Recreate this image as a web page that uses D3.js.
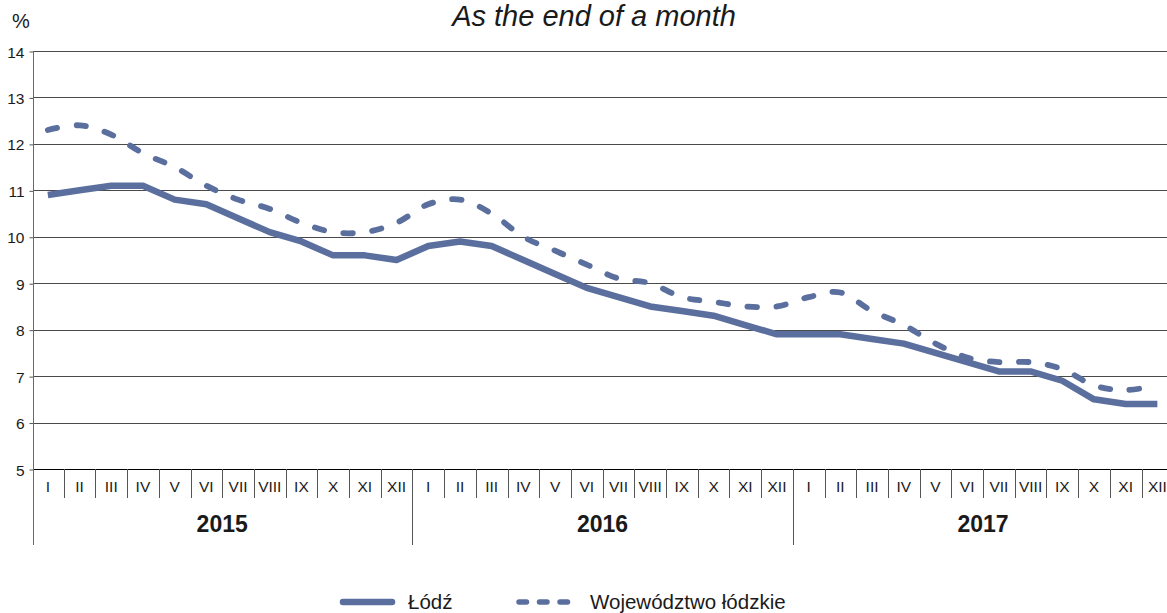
<!DOCTYPE html>
<html>
<head>
<meta charset="utf-8">
<script src="https://cdn.jsdelivr.net/npm/d3@7/dist/d3.min.js"></script>
<style>
	html, body { margin: 0; padding: 0; background: #fff; }
	svg { display: block; font-family: 'Liberation Sans', Arial, sans-serif; }
</style>
</head>
<body>
<div id="chart"></div>
<script>
var years = ['2015', '2016', '2017'];
var months = ['I', 'II', 'III', 'IV', 'V', 'VI', 'VII', 'VIII', 'IX', 'X', 'XI', 'XII'];
var yTicks = [5, 6, 7, 8, 9, 10, 11, 12, 13, 14];

// unemployment rate, % (end of month)
var lodz = [
	10.9, 11.0, 11.1, 11.1, 10.8, 10.7, 10.4, 10.1, 9.9, 9.6, 9.6, 9.5,
	9.8, 9.9, 9.8, 9.5, 9.2, 8.9, 8.7, 8.5, 8.4, 8.3, 8.1, 7.9,
	7.9, 7.9, 7.8, 7.7, 7.5, 7.3, 7.1, 7.1, 6.9, 6.5, 6.4, 6.4
];
var wojewodztwo = [
	12.3, 12.4, 12.2, 11.8, 11.5, 11.1, 10.8, 10.6, 10.3, 10.1, 10.1, 10.3,
	10.7, 10.8, 10.5, 10.0, 9.7, 9.4, 9.1, 9.0, 8.7, 8.6, 8.5, 8.5,
	8.7, 8.8, 8.4, 8.1, 7.7, 7.4, 7.3, 7.3, 7.15, 6.8, 6.7, 6.8
];

var LINE_COLOR = '#5b6f9e';

(function () {
	drawChart('chart');
})();

function drawChart(elementId) {
	var width = 1167,
		height = 613,
		left = 33,
		right = 1173.2,
		top = 51,
		bottom = 469,
		monthRow = 498,
		yearRow = 545;

	var svg = d3.select('#' + elementId).append('svg')
		.attr('width', width)
		.attr('height', height);

	var points = [];
	years.forEach(function (yr) {
		months.forEach(function (m) {
			points.push({ year: yr, month: m });
		});
	});

	var x = d3.scaleBand()
		.domain(d3.range(points.length))
		.range([left - 1, right])
		.paddingInner(0)
		.paddingOuter(0);

	var y = d3.scaleLinear()
		.domain([5, 14])
		.range([bottom, top]);

	// gridlines
	svg.append('g')
		.attr('class', 'grid')
		.selectAll('line')
		.data(yTicks)
		.enter().append('line')
		.attr('x1', left)
		.attr('x2', width)
		.attr('y1', function (d) { return Math.round(y(d)) + 0.5; })
		.attr('y2', function (d) { return Math.round(y(d)) + 0.5; })
		.attr('stroke', function (d) { return d === 5 ? '#000' : '#4a4a4a'; })
		.attr('stroke-width', 1);

	// y axis
	var yAxis = d3.axisLeft(y)
		.tickValues(yTicks)
		.tickSize(4)
		.tickSizeOuter(0);

	var yg = svg.append('g')
		.attr('class', 'yAxis')
		.attr('transform', 'translate(' + (left + 0.5) + ',0.5)')
		.call(yAxis);
	yg.select('.domain').remove();
	yg.selectAll('.tick line').attr('stroke', '#555');
	yg.selectAll('.tick text')
		.attr('x', -9)
		.attr('dy', '0.36em')
		.attr('fill', '#1a1a1a')
		.style('font-size', '15.5px');

	svg.append('line')
		.attr('x1', left + 0.5).attr('x2', left + 0.5)
		.attr('y1', top).attr('y2', yearRow)
		.attr('stroke', '#6a6a6a');

	// month labels
	var xAxis = d3.axisBottom(x)
		.tickSize(0)
		.tickFormat(function (i) { return points[i].month; });

	var xg = svg.append('g')
		.attr('class', 'xAxis')
		.attr('transform', 'translate(0,' + bottom + ')')
		.call(xAxis);
	xg.select('.domain').remove();
	xg.selectAll('.tick text')
		.attr('y', 17)
		.attr('dy', '0.36em')
		.attr('fill', '#1a1a1a')
		.style('font-size', '15.5px');

	// separators between months and years
	svg.append('g')
		.selectAll('line')
		.data(d3.range(1, points.length))
		.enter().append('line')
		.attr('x1', function (i) { return Math.round(x(i)) + 0.5; })
		.attr('x2', function (i) { return Math.round(x(i)) + 0.5; })
		.attr('y1', bottom)
		.attr('y2', function (i) { return i % 12 === 0 ? yearRow : monthRow; })
		.attr('stroke', '#555');

	// year labels
	svg.append('g')
		.selectAll('text')
		.data(years)
		.enter().append('text')
		.attr('x', function (d, k) { return (x(k * 12) + x(k * 12 + 11) + x.bandwidth()) / 2; })
		.attr('y', 532)
		.attr('text-anchor', 'middle')
		.attr('fill', '#1a1a1a')
		.style('font-weight', 'bold')
		.style('font-size', '23px')
		.text(function (d) { return d; });

	var cx = function (d, i) { return x(i) + x.bandwidth() / 2; };

	var solid = d3.line()
		.curve(d3.curveLinear)
		.x(cx)
		.y(function (d) { return y(d); });

	var smooth = d3.line()
		.curve(d3.curveCardinal.tension(0))
		.x(cx)
		.y(function (d) { return y(d); });

	svg.append('path')
		.datum(wojewodztwo)
		.attr('fill', 'none')
		.attr('stroke', LINE_COLOR)
		.attr('stroke-width', 5.8)
		.attr('stroke-linecap', 'round')
		.attr('stroke-dasharray', '9.5,19.5')
		.attr('d', smooth);

	svg.append('path')
		.datum(lodz)
		.attr('fill', 'none')
		.attr('stroke', LINE_COLOR)
		.attr('stroke-width', 6.5)
		.attr('stroke-linejoin', 'round')
		.attr('d', solid);

	// labels
	svg.append('text')
		.attr('x', 12)
		.attr('y', 28)
		.attr('fill', '#1a1a1a')
		.style('font-size', '20px')
		.text('%');

	svg.append('text')
		.attr('x', 594)
		.attr('y', 26)
		.attr('text-anchor', 'middle')
		.attr('fill', '#1a1a1a')
		.style('font-size', '29px')
		.style('font-style', 'italic')
		.text('As the end of a month');

	// legend
	var legend = svg.append('g').attr('class', 'legend');
	var legendItems = [
		{ name: 'Łódź', x: 340, tx: 408, dash: null, w: 6.5 },
		{ name: 'Województwo łódzkie', x: 516, tx: 590, dash: '7.5,13', w: 5.5 }
	];

	legendItems.forEach(function (item) {
		legend.append('line')
			.attr('x1', item.x + 3)
			.attr('x2', item.x + 52)
			.attr('y1', 602)
			.attr('y2', 602)
			.attr('stroke', LINE_COLOR)
			.attr('stroke-width', item.w)
			.attr('stroke-linecap', 'round')
			.attr('stroke-dasharray', item.dash);

		legend.append('text')
			.attr('x', item.tx)
			.attr('y', 609)
			.attr('fill', '#1a1a1a')
			.style('font-size', '20.5px')
			.text(item.name);
	});
}
</script>
</body>
</html>
